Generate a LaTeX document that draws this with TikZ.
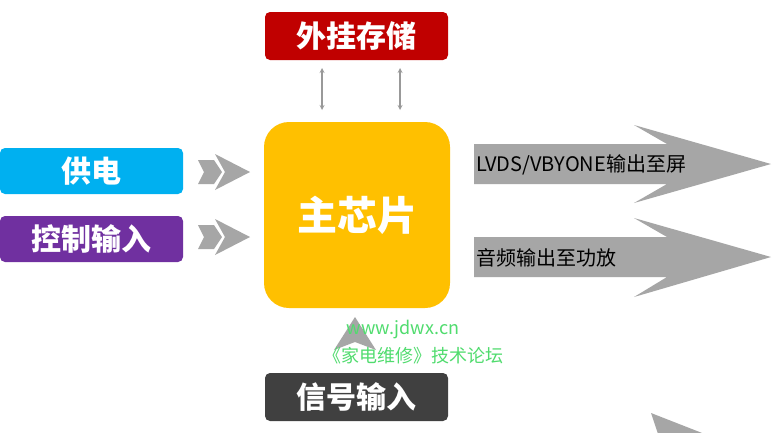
\documentclass[tikz,border=0pt]{standalone}
\usepackage{fontspec}
\newfontfamily\cjk{Noto Sans CJK SC}
\newfontfamily\cjkb{Noto Sans CJK SC Black}
\begin{document}
\begin{tikzpicture}[x=1pt,y=-1pt,
  lab/.style={rounded corners=5pt,text=white,font=\cjkb\fontsize{30}{30}\selectfont,minimum width=183pt,minimum height=46pt,inner sep=0pt},
  dbl/.style={<->,>=stealth,draw=black!40,line width=1.2pt}]
\useasboundingbox (0,0) rectangle (776,432);
\fill[white] (0,0) rectangle (776,432);
% right big arrows
\fill[black!35] (474,144) -- (667,144) -- (634,125) -- (771,164) -- (634,203) -- (667,184) -- (474,184) -- cycle;
\fill[black!35] (474,237) -- (667,237) -- (634,218) -- (771,257) -- (634,297) -- (667,277) -- (474,277) -- cycle;
\begin{scope}
\clip (0,0) rectangle (776,432);
\fill[black!35] (651,413) -- (720,440) -- (660,440) -- cycle;
\end{scope}
\node[anchor=west,inner sep=1pt,font=\cjk\fontsize{20}{20}\selectfont] (t1) at (475,165) {LVDS/VBYONE输出至屏};
\node[anchor=west,inner sep=1pt,font=\cjk\fontsize{20}{20}\selectfont] (t2) at (475,258) {音频输出至功放};
% chip
\node[fill={rgb,255:red,255;green,192;blue,0},rounded corners=25pt,minimum width=186pt,minimum height=186pt,text=white,font=\cjkb\fontsize{40}{40}\selectfont] (chip) at (357,215) {主芯片};
% boxes
\node[lab,fill={rgb,255:red,192;green,0;blue,0},minimum height=48pt] (ext) at (356.5,36) {外挂存储};
\node[lab,fill={rgb,255:red,0;green,176;blue,240}] (pwr) at (91.5,171) {供电};
\node[lab,fill={rgb,255:red,112;green,48;blue,160}] (ctl) at (91.5,239) {控制输入};
\node[lab,fill={rgb,255:red,64;green,64;blue,64},minimum height=48pt] (sig) at (356.5,397) {信号输入};
% double arrows
\coordinate (a1) at (322,68); \coordinate (b1) at (322,110);
\coordinate (a2) at (400,68); \coordinate (b2) at (400,110);
\draw[dbl] (a1) -- (b1);
\draw[dbl] (a2) -- (b2);
% left chevrons
\foreach \yy in {172,237}{
 \fill[black!35] (198,\yy-12) -- (214,\yy-12) -- (222,\yy) -- (214,\yy+12) -- (198,\yy+12) -- (204,\yy) -- cycle;
 \fill[black!35] (215,\yy-18) -- (250,\yy) -- (215,\yy+18) -- (225,\yy) -- cycle;
}
% up chevron
\fill[black!35] (355,317) -- (376,350) -- (355,342) -- (334,350) -- cycle;
% watermark
\node[text={rgb,255:red,80;green,220;blue,110},font=\cjk\fontsize{18}{18}\selectfont] (w1) at (403,330) {www.jdwx.cn};
\node[text={rgb,255:red,80;green,220;blue,110},font=\cjk\fontsize{18}{18}\selectfont] (w2) at (413,356) {《家电维修》技术论坛};
\end{tikzpicture}
\end{document}
